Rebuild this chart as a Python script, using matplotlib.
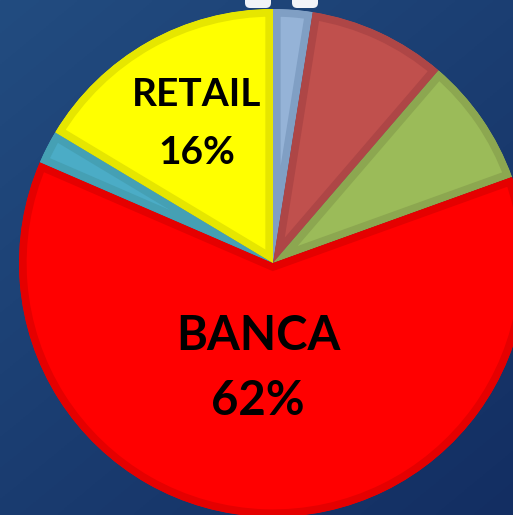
import numpy as np
import matplotlib.pyplot as plt
from matplotlib.patches import FancyBboxPatch

# shares, clockwise from 12 o'clock
sectors = ["Altro 1", "Altro 2", "Altro 3", "BANCA", "Altro 4", "RETAIL"]
shares = [2.5, 8.8, 8.2, 62.0, 2.1, 16.4]
fills = ["#95B3D7", "#C0504D", "#9BBB59", "#FF0000", "#4BACC6", "#FFFF00"]
edges = ["#809FC4", "#AE4646", "#8CA750", "#E50000", "#45A0B4", "#E6E600"]

W, H = 513, 515
fig = plt.figure(figsize=(W / 100, H / 100), dpi=100)

# background gradient (row 0 = top)
bg = fig.add_axes([0, 0, 1, 1])
bg.axis("off")
yy, xx = np.mgrid[0:1:200j, 0:1:200j]
top = np.array([0x22, 0x4C, 0x80]) / 255
bot = np.array([0x13, 0x2E, 0x62]) / 255
t = np.clip(0.55 * yy + 0.45 * xx, 0, 1)[..., None]
bg.imshow(top * (1 - t) + bot * t, aspect="auto", origin="upper")

# white fragments of the cropped title above the chart
for x0 in (245, 292):
    fig.patches.append(FancyBboxPatch((x0 / W, 1 - 8 / H), 26 / W, 14 / H,
                                      boxstyle="round,pad=0,rounding_size=0.01",
                                      transform=fig.transFigure,
                                      facecolor="#F2F4F8", edgecolor="none"))

ax = fig.add_axes([0, 0, 1, 1])
ax.axis("off")
R = 254.0
cx, cy = 273.0, 263.0

wedges, _ = ax.pie(shares, colors=fills, startangle=90, counterclock=False,
                   radius=1.0, normalize=True)
for w, ec in zip(wedges, edges):
    w.set_edgecolor(ec)
    w.set_linewidth(11)
    w.set_clip_on(True)
    w.set_clip_path(w)

ax.set_aspect("auto")
ax.set_xlim(-cx / R, (W - cx) / R)
ax.set_ylim((cy - H) / R, cy / R)

font = dict(family=["Lato", "DejaVu Sans"], fontweight="bold", color="black",
            ha="center", va="center")

def px(x, y):
    return (x - cx) / R, (cy - y) / R

ax.text(*px(197, 95), "RETAIL", fontsize=28, **font)
ax.text(*px(197, 152), "16%", fontsize=28, **font)
ax.text(*px(258, 336), "BANCA", fontsize=34, **font)
ax.text(*px(258, 401), "62%", fontsize=34, **font)

fig.savefig("out.png", dpi=100)
